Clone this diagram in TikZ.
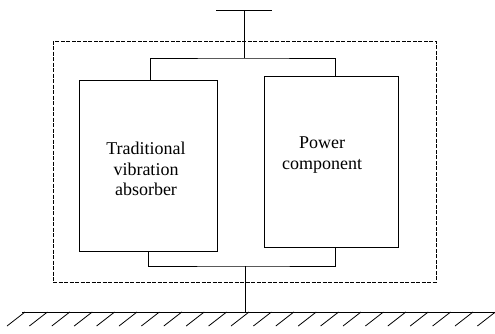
\documentclass[tikz,border=0pt]{standalone}
\usepackage{fontspec}
\setmainfont{Liberation Serif}
\usepackage{tikz}
\usetikzlibrary{
  positioning,
  calc
}
\tikzset{
  partbox/.style={draw, line width=1pt, inner sep=0pt},
  framebox/.style={draw, line width=0.9pt, dash pattern=on 4pt off 1.5pt, inner sep=0pt,
    minimum width=383pt, minimum height=241pt},
  lbl/.style={align=center, font=\fontsize{18}{20.5}\selectfont, inner sep=0pt},
  link/.style={line width=1pt},
  hatch/.style={line width=0.8pt},
}

\begin{document}
\begin{tikzpicture}[x=1pt, y=-1pt]
  \useasboundingbox (0,0) rectangle (495,333);

  % dashed housing
  \node[framebox] (frame) at (244.5,161.5) {};

  % the two parallel parts
  \node[partbox, minimum width=138pt, minimum height=171pt] (absorber) at (148,165.5) {};
  \node[partbox, minimum width=134pt, minimum height=171pt, right=46pt of absorber, yshift=4pt] (power) {};
  \node[lbl] at (146,169) {Traditional\\vibration\\absorber};
  \node[lbl] at (322,155) {Power\\component};

  % upper attachment
  \coordinate (topc) at (244,10);
  \draw[link] ($(topc)+(-28,0)$) -- ($(topc)+(28,0)$);
  \coordinate (upper) at (244,58);
  \draw[link] (topc) -- (upper);
  \draw[link] ($(absorber.north)+(2,0)$) |- (upper) -| ($(power.north)+(4,0)$);

  % lower attachment and ground
  \coordinate (lower) at (245,266);
  \coordinate (gnd) at (245,312);
  \draw[link] (absorber.south) |- (lower) -| ($(power.south)+(4,0)$);
  \draw[link] (lower) -- (gnd);
  \draw[link] (22,312) -- (495,312);
  \foreach \x in {25,47.4,...,496}
    \draw[hatch] (\x,312) -- ++(-18,14);
\end{tikzpicture}
\end{document}
